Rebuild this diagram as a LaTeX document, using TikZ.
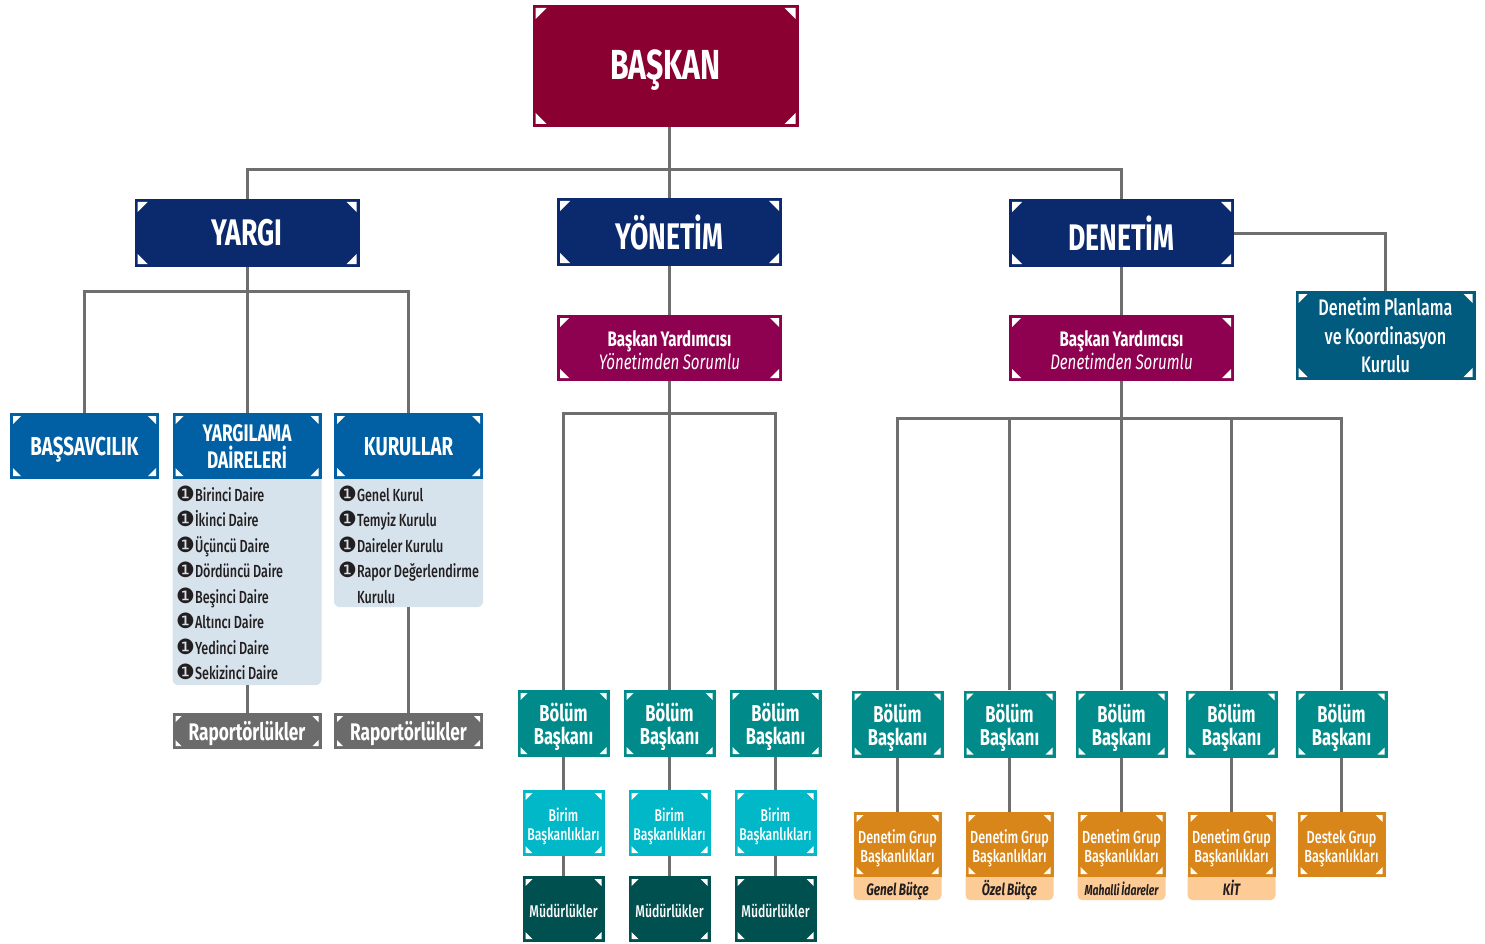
\documentclass[tikz,border=0pt]{standalone}
\usepackage{fontspec}
\setmainfont{Fira Sans}[FakeStretch=0.72, WordSpace=0.85]
\newfontfamily\medfont{Fira Sans Medium}[FakeStretch=0.72, WordSpace=0.85]
\newfontfamily\dingfont{DejaVu Sans}
\usetikzlibrary{calc}

\definecolor{baskanred}{HTML}{8A0030}
\definecolor{branchnavy}{HTML}{0B2A6E}
\definecolor{deptblue}{HTML}{0060A3}
\definecolor{panelblue}{HTML}{D7E3EC}
\definecolor{deputypurple}{HTML}{8E0050}
\definecolor{councilblue}{HTML}{005B7F}
\definecolor{bolumteal}{HTML}{008B8A}
\definecolor{birimcyan}{HTML}{00B8C8}
\definecolor{mudurteal}{HTML}{00504F}
\definecolor{gruporange}{HTML}{D8861A}
\definecolor{budgetorange}{HTML}{FDCB95}
\definecolor{rapgray}{HTML}{6B6B6B}
\definecolor{linegray}{HTML}{6E6E6E}
\definecolor{textdark}{HTML}{231F20}

% white triangles in the four corners of a box
\newcommand{\cornermarks}[1]{%
  \foreach \corner/\sx/\sy in {north west/1/1, north east/-1/1, south west/1/-1, south east/-1/-1}{%
    \fill[white] ($(path picture bounding box.\corner)+(\sx*3,\sy*3)$) coordinate (cm)
      -- ($(cm)+(\sx*#1,0)$) -- ($(cm)+(0,\sy*#1)$) -- cycle;
  }}
\newcommand{\itemdot}{{\dingfont\fontsize{21}{21}\selectfont ❶}}

\tikzset{marks/.style={path picture={\cornermarks{#1}}}, marks/.default=8}
\tikzstyle{unit} = [rectangle, inner sep=0pt, align=center, text=white]
\tikzstyle{top} = [unit, fill=baskanred, minimum width=266, minimum height=122, text height=29pt, text depth=2pt, font=\fontsize{42}{42}\selectfont\bfseries, marks=11]
\tikzstyle{branch} = [unit, fill=branchnavy, minimum width=225, minimum height=68, font=\fontsize{37}{37}\selectfont\bfseries, marks=10]
\tikzstyle{dept} = [unit, fill=deptblue, minimum width=149, minimum height=66, marks=8]
\tikzstyle{listpanel} = [rectangle, rounded corners=6pt, fill=panelblue, inner sep=0pt, minimum width=149, anchor=north]
\tikzstyle{listitem} = [inner sep=0pt, anchor=base west, text=textdark, font=\medfont\fontsize{17.5}{17.5}\selectfont]
\tikzstyle{rapbox} = [unit, fill=rapgray, minimum width=149, minimum height=36, text height=20pt, text depth=2pt, font=\fontsize{24}{24}\selectfont\bfseries, marks=6]
\tikzstyle{deputy} = [unit, fill=deputypurple, minimum width=225, minimum height=66, text height=42pt, text depth=0pt, font=\fontsize{21}{22.5}\selectfont\bfseries, marks=9]
\tikzstyle{council} = [unit, fill=councilblue, minimum width=180, minimum height=89, font=\medfont\fontsize{22.5}{28.5}\selectfont, marks=9]
\tikzstyle{bolum} = [unit, fill=bolumteal, minimum width=92, minimum height=67, text height=42pt, text depth=0pt, font=\fontsize{23}{23}\selectfont\bfseries, marks=7]
\tikzstyle{birim} = [unit, fill=birimcyan, minimum width=82, minimum height=66, text height=34pt, text depth=0pt, font=\medfont\fontsize{17}{19}\selectfont, marks=7]
\tikzstyle{mudur} = [unit, fill=mudurteal, minimum width=82, minimum height=66, text height=18pt, text depth=2pt, font=\medfont\fontsize{17}{19}\selectfont, marks=7]
\tikzstyle{grup} = [unit, fill=gruporange, minimum width=88, minimum height=65, text height=35pt, text depth=0pt, font=\medfont\fontsize{17.5}{19}\selectfont, marks=7]
\tikzstyle{budget} = [rectangle, rounded corners=5pt, fill=budgetorange, text=textdark, inner sep=0pt, minimum width=88, minimum height=30, text height=22pt, text depth=2pt, anchor=north, font=\fontsize{16.5}{16.5}\selectfont\bfseries\itshape]
\tikzstyle{link} = [draw=linegray, line width=3pt]

\begin{document}
\begin{tikzpicture}[x=1pt, y=-1pt]

    \useasboundingbox (0,0) rectangle (1485,944);

    % top
    \node (baskan) [top] at (665.5, 66) {BAŞKAN};

    % three branches
    \node (yargi) [branch] at (247, 233) {YARGI};
    \node (yonetim) [branch] at (669.5, 232) {YÖNETİM};
    \node (denetim) [branch] at (1121.5, 233) {DENETİM};

    % yargi side
    \node (bassav) [dept, text height=21pt, text depth=2pt, font=\fontsize{26}{26}\selectfont\bfseries] at (84.5, 446) {BAŞSAVCILIK};
    \node (ydlist) [listpanel, minimum height=213] at (247, 472) {};
    \node (kurlist) [listpanel, minimum height=135] at (408.5, 472) {};
    \node (ydaire) [dept, font=\fontsize{24}{27}\selectfont\bfseries] at (247, 446) {YARGILAMA\\DAİRELERİ};
    \node (kurullar) [dept, text height=21pt, text depth=2pt, font=\fontsize{26}{26}\selectfont\bfseries] at (408.5, 446) {KURULLAR};

    \foreach \daire [count=\i] in {Birinci, İkinci, Üçüncü, Dördüncü, Beşinci, Altıncı, Yedinci, Sekizinci}
        \node (yd\i) [listitem] at (176, 501.5+25.43*\i-25.43) {\itemdot\daire{} Daire};

    \node (kr1) [listitem] at (338, 501.5) {\itemdot Genel Kurul};
    \node (kr2) [listitem] at (338, 526.9) {\itemdot Temyiz Kurulu};
    \node (kr3) [listitem] at (338, 552.4) {\itemdot Daireler Kurulu};
    \node (kr4) [listitem] at (338, 577.8) {\itemdot Rapor Değerlendirme};
    \node (kr5) [listitem] at (338, 603.2) {\hphantom{\itemdot}Kurulu};

    \node (rap1) [rapbox] at (247, 731) {Raportörlükler};
    \node (rap2) [rapbox] at (408.5, 731) {Raportörlükler};

    % yonetim side
    \node (byyon) [deputy] at (669.5, 348) {Başkan Yardımcısı\\{\mdseries\itshape Yönetimden Sorumlu}};
    \node (ybolum1) [bolum] at (563.5, 723.5) {Bölüm\\Başkanı};
    \node (ybolum2) [bolum] at (669.5, 723.5) {Bölüm\\Başkanı};
    \node (ybolum3) [bolum] at (775.5, 723.5) {Bölüm\\Başkanı};
    \node (birim1) [birim] at (563.5, 823) {Birim\\Başkanlıkları};
    \node (birim2) [birim] at (669.5, 823) {Birim\\Başkanlıkları};
    \node (birim3) [birim] at (775.5, 823) {Birim\\Başkanlıkları};
    \node (mud1) [mudur] at (563.5, 909) {Müdürlükler};
    \node (mud2) [mudur] at (669.5, 909) {Müdürlükler};
    \node (mud3) [mudur] at (775.5, 909) {Müdürlükler};

    % denetim side
    \node (byden) [deputy] at (1121.5, 348) {Başkan Yardımcısı\\{\mdseries\itshape Denetimden Sorumlu}};
    \node (dpk) [council] at (1385.5, 335.5) {Denetim Planlama\\ve Koordinasyon\\Kurulu};
    \node (dbolum1) [bolum] at (897.5, 724) {Bölüm\\Başkanı};
    \node (dbolum2) [bolum] at (1009.5, 724) {Bölüm\\Başkanı};
    \node (dbolum3) [bolum] at (1121.5, 724) {Bölüm\\Başkanı};
    \node (dbolum4) [bolum] at (1231.5, 724) {Bölüm\\Başkanı};
    \node (dbolum5) [bolum] at (1341.5, 724) {Bölüm\\Başkanı};
    \node (dgalt1) [budget] at (897.5, 870) {Genel Bütçe};
    \node (dgalt2) [budget] at (1009.5, 870) {Özel Bütçe};
    \node (dgalt3) [budget, font=\fontsize{14.5}{14.5}\selectfont\bfseries\itshape] at (1121.5, 870) {Mahalli İdareler};
    \node (dgalt4) [budget] at (1231.5, 870) {KİT};
    \node (dgrup1) [grup] at (897.5, 844.5) {Denetim Grup\\Başkanlıkları};
    \node (dgrup2) [grup] at (1009.5, 844.5) {Denetim Grup\\Başkanlıkları};
    \node (dgrup3) [grup] at (1121.5, 844.5) {Denetim Grup\\Başkanlıkları};
    \node (dgrup4) [grup] at (1231.5, 844.5) {Denetim Grup\\Başkanlıkları};
    \node (dgrup5) [grup] at (1341.5, 844.5) {Destek Grup\\Başkanlıkları};

    % bus points
    \coordinate (bus1) at (669.5, 170);
    \coordinate (bus2) at (247, 291);
    \coordinate (bus3) at (669.5, 413);
    \coordinate (bus4) at (1121.5, 418);

    % connectors
    \draw [link] (baskan.south -| bus1) -- (yonetim.north);
    \draw [link] (yargi.north) |- (bus1) -| (denetim.north);

    \draw [link] (yargi) -- (ydaire);
    \draw [link] (bassav.north) |- (bus2) -| (kurullar.north);
    \draw [link] (ydlist) -- (rap1);
    \draw [link] (kurlist) -- (rap2);

    \draw [link] (yonetim) -- (byyon);
    \draw [link] (byyon) -- (ybolum2);
    \draw [link] (ybolum1.north) |- (bus3) -| (ybolum3.north);
    \draw [link] (ybolum1) -- (birim1);
    \draw [link] (ybolum2) -- (birim2);
    \draw [link] (ybolum3) -- (birim3);
    \draw [link] (birim1) -- (mud1);
    \draw [link] (birim2) -- (mud2);
    \draw [link] (birim3) -- (mud3);

    \draw [link] (denetim) -- (byden);
    \draw [link] (denetim.east) -| (dpk.north);
    \draw [link] (byden) -- (dbolum3);
    \draw [link] (dbolum1.north) |- (bus4) -| (dbolum5.north);
    \draw [link] (dbolum2.north) -- (dbolum2 |- bus4);
    \draw [link] (dbolum4.north) -- (dbolum4 |- bus4);
    \draw [link] (dbolum1) -- (dgrup1);
    \draw [link] (dbolum2) -- (dgrup2);
    \draw [link] (dbolum3) -- (dgrup3);
    \draw [link] (dbolum4) -- (dgrup4);
    \draw [link] (dbolum5) -- (dgrup5);

\end{tikzpicture}
\end{document}
